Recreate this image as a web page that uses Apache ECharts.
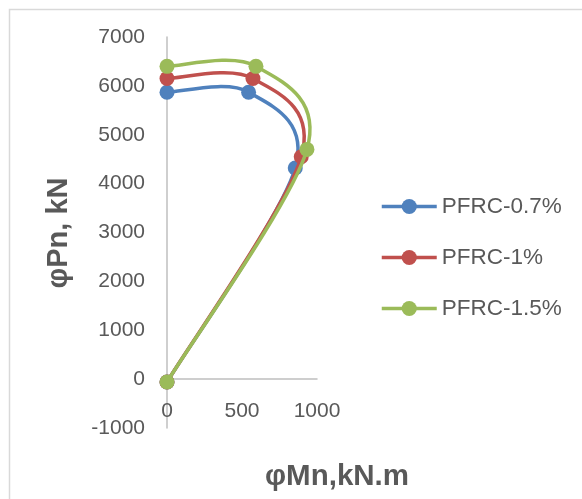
<!DOCTYPE html>
<html>
<head>
<meta charset="utf-8">
<script src="https://cdn.jsdelivr.net/npm/echarts@6/dist/echarts.min.js"></script>
<style>html,body{margin:0;padding:0;background:#fff;}#c{width:582px;height:499px;}</style>
</head>
<body>
<div id="c"></div>
<script>
const seriesNames = ["PFRC-0.7%", "PFRC-1%", "PFRC-1.5%"];
const pfrc07X = [0, 855, 544, 0];
const pfrc07Y = [-60, 4320, 5870, 5870];
const pfrc1X = [0, 895, 573, 0];
const pfrc1Y = [-60, 4550, 6150, 6150];
const pfrc15X = [0, 933, 593, 0];
const pfrc15Y = [-60, 4700, 6400, 6400];
const xTicks = [0, 500, 1000];
const yTicks = [-1000, 0, 1000, 2000, 3000, 4000, 5000, 6000, 7000];
const colors = ["#4f81bd", "#c0504d", "#9bbb59"];

const xsAll = [pfrc07X, pfrc1X, pfrc15X];
const ysAll = [pfrc07Y, pfrc1Y, pfrc15Y];
const zip = (xs, ys) => xs.map((x, i) => [x, ys[i]]);

// Smoothed curve (Catmull-Rom style bezier), positions from the axes via api.coord
function curveSeries(xs, ys, color, z) {
  const n = xs.length;
  return {
    type: 'custom',
    data: zip(xs, ys),
    z: z,
    silent: true,
    renderItem: function (params, api) {
      const i = params.dataIndex;
      if (i >= n - 1) return null;
      const P = k => { const j = Math.max(0, Math.min(n - 1, k)); return api.coord([xs[j], ys[j]]); };
      const p0 = P(i - 1), p1 = P(i), p2 = P(i + 1), p3 = P(i + 2);
      const t = 1 / 6;
      return {
        type: 'bezierCurve',
        shape: {
          x1: p1[0], y1: p1[1], x2: p2[0], y2: p2[1],
          cpx1: p1[0] + (p2[0] - p0[0]) * t, cpy1: p1[1] + (p2[1] - p0[1]) * t,
          cpx2: p2[0] - (p3[0] - p1[0]) * t, cpy2: p2[1] - (p3[1] - p1[1]) * t
        },
        style: {stroke: color, lineWidth: 3.5, fill: null, lineCap: 'round'}
      };
    }
  };
}

const chart = echarts.init(document.getElementById('c'), null, {renderer: 'canvas'});
const font = '"Liberation Sans", Arial, sans-serif';
const series = [];
seriesNames.forEach((n, i) => {
  series.push({
    name: n, type: 'line', data: zip(xsAll[i], ysAll[i]),
    symbol: 'circle', symbolSize: 15, showSymbol: true,
    lineStyle: {color: colors[i], width: 3.5, opacity: 0},
    itemStyle: {color: colors[i]},
    z: 3 + 2 * i
  });
});
seriesNames.forEach((n, i) => series.push(curveSeries(xsAll[i], ysAll[i], colors[i], 2 + 2 * i)));

chart.setOption({
  animation: false,
  backgroundColor: '#ffffff',
  grid: {left: 167, right: 265, top: 37, bottom: 71, containLabel: false, outerBoundsMode: 'none'},
  xAxis: {
    type: 'value', min: xTicks[0], max: xTicks[xTicks.length - 1], interval: 500,
    axisLine: {onZero: true, lineStyle: {color: '#bfbfbf', width: 1.5}},
    axisTick: {show: false},
    splitLine: {show: false},
    axisLabel: {color: '#595959', fontSize: 21, fontFamily: font, margin: -27, formatter: v => String(v)}
  },
  yAxis: {
    type: 'value', min: yTicks[0], max: yTicks[yTicks.length - 1], interval: 1000,
    axisLine: {show: true, onZero: true, lineStyle: {color: '#bfbfbf', width: 1.5}},
    axisTick: {show: false},
    splitLine: {show: false},
    axisLabel: {color: '#595959', fontSize: 21, fontFamily: font, margin: 22, formatter: v => String(v)}
  },
  legend: {
    orient: 'vertical', left: 380, top: 195,
    padding: 0,
    itemWidth: 55, itemHeight: 19, itemGap: 28,
    lineStyle: {width: 3.5, opacity: 1},
    textStyle: {color: '#595959', fontSize: 22.5, fontFamily: font, lineHeight: 22},
    data: seriesNames
  },
  series: series,
  graphic: [
    {type: 'rect', left: 7, top: 7, shape: {width: 620, height: 540}, style: {fill: 'none', stroke: '#d9d9d9', lineWidth: 1.5}, silent: true, z: -1},
    {type: 'text', x: 337, y: 477, style: {text: 'φMn,kN.m', font: 'bold 29.5px ' + font, fill: '#595959', align: 'center', verticalAlign: 'middle'}},
    {type: 'text', x: 59, y: 233, rotation: Math.PI / 2, style: {text: 'φPn, kN', font: 'bold 29px ' + font, fill: '#595959', align: 'center', verticalAlign: 'middle'}}
  ]
});
</script>
</body>
</html>
